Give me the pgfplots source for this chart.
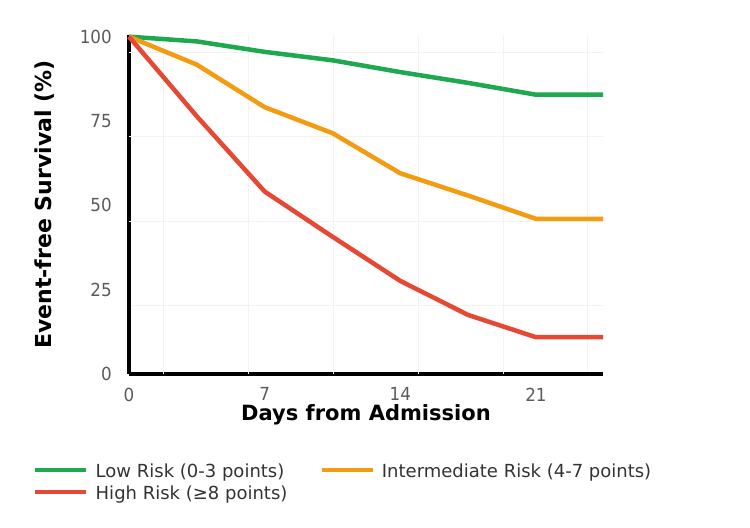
\documentclass[border=0pt]{standalone}
\usepackage{fontspec}
\setmainfont{DejaVu Sans}
\newfontfamily\tickfont{DejaVu Sans}[FakeStretch=0.93]
\usepackage{pgfplots}
\pgfplotsset{compat=1.18}
\definecolor{cgreen}{RGB}{30,168,80}
\definecolor{corange}{RGB}{243,156,18}
\definecolor{cred}{RGB}{231,72,52}
\definecolor{tickgray}{RGB}{90,90,90}
\definecolor{legtext}{RGB}{51,51,51}
\definecolor{gridc}{RGB}{243,243,243}
\begin{document}
\begin{tikzpicture}
\useasboundingbox (0,0) rectangle (750bp,528bp);
\begin{axis}[
  at={(129bp,154bp)}, anchor=south west,
  scale only axis, width=474bp, height=339bp,
  xmin=0, xmax=24.46, ymin=0, ymax=100.5,
  clip=false,
  axis lines*=left,
  axis line style={-, black, line width=3bp},
  xtick={0,7,14,21}, ytick={0,25,50,75,100},
  major tick length=0pt, minor tick length=0pt,
  tick style={draw=none}, xtick style={draw=none}, ytick style={draw=none},
  /pgf/number format/assume math mode=true,
  xticklabel style={font=\tickfont\fontsize{18bp}{20bp}\selectfont, text=tickgray, inner sep=0pt, anchor=north, yshift=-13.5bp},
  yticklabel style={font=\tickfont\fontsize{18bp}{20bp}\selectfont, text=tickgray, inner sep=0pt, anchor=east, xshift=-17bp},
  extra x ticks={1.754,6.14,10.53,14.92,19.30,23.63},
  extra x tick labels={},
  extra y ticks={95.3,70.3,45.1,20.2},
  extra y tick labels={},
  extra tick style={grid=major, major grid style={gridc, line width=0.8bp, shorten <=1.8bp}, major tick length=0pt, tick style={draw=none}},
  every axis y label/.style={at={(axis description cs:-0.1772,0.5)}, rotate=90, anchor=center, font=\bfseries\fontsize{22bp}{24bp}\selectfont},
  every axis x label/.style={at={(axis description cs:0.5,-0.1360)}, anchor=base, font=\bfseries\fontsize{21bp}{24bp}\selectfont},
  xlabel={Days from Admission},
  ylabel={Event-free Survival (\%)},
  legend columns=2,
  legend cell align=left,
  legend image code/.code={\draw[#1, line width=4.5bp] (0bp,2.5bp) -- (51bp,2.5bp);},
  legend style={at={(axis description cs:-0.2025,-0.2649)}, anchor=north west, draw=none, fill=none, inner sep=0pt,
    font=\fontsize{18bp}{20bp}\selectfont, text=legtext,
    nodes={inner sep=0pt, text height=13.5bp, text depth=4bp},
    row sep=4.5bp,
    /tikz/every odd column/.append style={column sep=7bp},
    /tikz/every even column/.append style={column sep=32bp}},
]
\addplot[cgreen, line width=4.5bp, line join=round] coordinates {
(0,100) (3.5,98.6) (7,95.5) (10.5,93) (14,89.5) (17.5,86.3) (21,82.8) (24.46,82.8)};
\addlegendentry{Low Risk (0-3 points)}
\addplot[corange, line width=4.5bp, line join=round] coordinates {
(0,100) (3.5,91.7) (7,79.1) (10.5,71.4) (14,59.5) (17.5,52.9) (21,46) (24.46,46)};
\addlegendentry{Intermediate Risk (4-7 points)}
\addplot[cred, line width=4.5bp, line join=round] coordinates {
(0,100) (3.5,76.4) (7,54.1) (10.5,40.7) (14,27.6) (17.5,17.5) (21,10.9) (24.46,10.9)};
\addlegendentry{High Risk (≥8 points)}
\end{axis}
\end{tikzpicture}
\end{document}
